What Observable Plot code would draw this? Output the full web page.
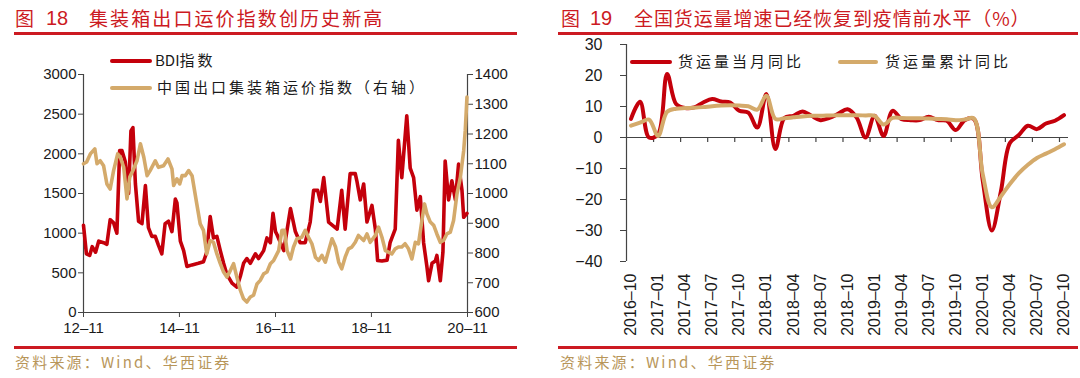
<!DOCTYPE html>
<html><head><meta charset="utf-8">
<script src="https://cdn.jsdelivr.net/npm/d3@7"></script>
<script src="https://cdn.jsdelivr.net/npm/@observablehq/plot@0.6"></script>
<style>
html,body{margin:0;padding:0;background:#fff;}
body{width:1080px;height:378px;position:relative;overflow:hidden;font-family:"Liberation Sans",Arial,sans-serif;}
.abs{position:absolute;white-space:nowrap;}
.title{color:#cc1a22;font-family:"Noto Sans CJK SC";font-size:19px;line-height:20px;top:8px;}
.rule{position:absolute;height:3px;background:#cc1a22;}
.src{color:#b8965a;font-family:"Noto Sans CJK SC";font-size:15px;line-height:16px;letter-spacing:2.2px;top:354px;}
.leg{font-family:"Noto Sans CJK SC";font-size:15px;line-height:16px;color:#1a1a1a;}
.cjk{letter-spacing:3px;}
.legline{position:absolute;height:4px;border-radius:2px;}
.plot{position:absolute;top:0;}
</style></head><body>
<script>
// ---------- data: left chart ----------
const bdiDates = ["2012-11-01","2012-11-23","2012-12-18","2013-01-06","2013-02-01","2013-02-25","2013-04-03","2013-04-28","2013-05-23","2013-06-18","2013-07-13","2013-08-03","2013-08-21","2013-09-15","2013-10-10","2013-10-28","2013-11-12","2013-12-01","2013-12-25","2014-01-20","2014-02-15","2014-03-10","2014-04-05","2014-05-01","2014-05-25","2014-06-20","2014-07-15","2014-08-10","2014-09-05","2014-10-01","2014-10-13","2014-11-08","2014-12-03","2014-12-28","2015-02-05","2015-03-25","2015-05-03","2015-05-28","2015-06-23","2015-07-18","2015-08-13","2015-09-08","2015-10-03","2015-10-28","2015-12-06","2016-01-12","2016-02-08","2016-03-03","2016-03-28","2016-04-23","2016-06-01","2016-06-25","2016-08-03","2016-08-28","2016-09-23","2016-10-13","2016-11-01","2016-11-13","2017-01-03","2017-02-23","2017-04-01","2017-05-08","2017-06-15","2017-07-23","2017-08-18","2017-09-18","2017-10-08","2017-11-03","2017-12-10","2018-02-13","2018-03-20","2018-04-15","2018-05-23","2018-07-01","2018-07-13","2018-08-08","2018-09-03","2018-09-28","2018-11-05","2018-12-01","2018-12-18","2019-01-20","2019-02-28","2019-03-23","2019-05-01","2019-05-25","2019-06-20","2019-07-28","2019-08-23","2019-09-18","2019-10-13","2019-11-08","2019-12-03","2019-12-28","2020-01-10","2020-02-05","2020-03-01","2020-03-13","2020-04-08","2020-04-28","2020-05-15","2020-06-10","2020-07-05","2020-08-01","2020-08-25","2020-09-20","2020-10-03","2020-10-28"];
const bdiValues = [1100,740,720,830,760,900,880,860,1170,1130,1000,2040,2040,1900,1500,2290,2330,1620,1150,1120,1600,1070,960,960,850,740,1120,1150,1020,1430,1380,900,780,580,600,620,640,760,1210,940,960,780,620,480,370,320,460,620,680,620,740,680,780,940,880,1250,1020,980,780,1310,1020,880,880,1140,1540,1540,1400,1700,1140,1050,1540,1050,1750,1750,1660,1420,1620,1140,1350,1050,655,650,660,880,1050,2170,1700,2480,1820,1700,1290,1460,880,580,400,620,650,720,400,760,1910,1420,1660,1420,1870,1540,1200,1250];
const ccfiDates = ["2012-11-01","2012-11-25","2012-12-23","2013-01-26","2013-02-12","2013-03-08","2013-04-03","2013-04-28","2013-05-23","2013-06-18","2013-07-19","2013-08-08","2013-09-03","2013-09-28","2013-10-19","2013-11-12","2013-12-13","2014-01-08","2014-02-03","2014-02-28","2014-03-23","2014-05-01","2014-05-25","2014-07-03","2014-08-06","2014-09-05","2014-09-18","2014-10-13","2014-11-03","2014-11-21","2014-12-15","2015-01-10","2015-02-05","2015-03-13","2015-04-08","2015-05-03","2015-05-28","2015-06-23","2015-07-18","2015-08-13","2015-09-08","2015-10-03","2015-10-28","2015-11-23","2015-12-18","2016-01-12","2016-02-08","2016-03-03","2016-03-28","2016-04-23","2016-05-18","2016-06-13","2016-07-08","2016-08-03","2016-08-28","2016-09-23","2016-10-18","2016-11-25","2016-12-20","2017-01-08","2017-01-28","2017-02-23","2017-03-18","2017-04-13","2017-05-20","2017-06-15","2017-07-10","2017-08-05","2017-09-01","2017-09-25","2017-10-20","2017-11-15","2017-12-10","2018-01-05","2018-02-01","2018-02-25","2018-03-20","2018-04-15","2018-05-10","2018-06-05","2018-07-01","2018-07-25","2018-09-03","2018-09-28","2018-10-23","2018-12-01","2018-12-25","2019-01-20","2019-02-15","2019-03-10","2019-04-05","2019-05-01","2019-05-25","2019-06-20","2019-07-15","2019-08-10","2019-09-05","2019-10-01","2019-10-25","2019-11-20","2019-12-10","2019-12-28","2020-01-23","2020-02-18","2020-03-13","2020-04-08","2020-05-03","2020-05-28","2020-06-23","2020-07-18","2020-08-13","2020-09-08","2020-10-03","2020-10-15","2020-10-28"];
const ccfiValues = [1100,1106,1133,1150,1100,1110,1093,1032,1015,1077,1133,1122,1088,982,1055,1077,1110,1167,1122,1060,1077,1110,1088,1093,1116,1083,1027,1049,1032,1060,1060,1077,1060,965,898,876,797,842,836,797,764,736,719,741,764,719,674,646,635,652,658,696,708,730,736,764,775,808,876,876,808,780,820,848,853,876,853,831,786,775,792,769,808,848,820,769,747,786,814,820,836,859,842,864,836,859,887,853,808,803,797,814,820,820,831,814,780,836,831,909,965,932,904,893,864,836,842,864,870,909,999,1055,1144,1212,1324];
const leftXTicks = ["2012-11-01","2014-11-01","2016-11-01","2018-11-01","2020-11-01"];
const leftYTicks = [0,500,1000,1500,2000,2500,3000];
const rightYTicks = [600,700,800,900,1000,1100,1200,1300,1400];

// ---------- data: right chart ----------
const freightMonths = ["2016-10","2016-11","2016-12","2017-01","2017-02","2017-03","2017-04","2017-05","2017-06","2017-07","2017-08","2017-09","2017-10","2017-11","2017-12","2018-01","2018-02","2018-03","2018-04","2018-05","2018-06","2018-07","2018-08","2018-09","2018-10","2018-11","2018-12","2019-01","2019-02","2019-03","2019-04","2019-05","2019-06","2019-07","2019-08","2019-09","2019-10","2019-11","2019-12","2020-01","2020-02","2020-03","2020-04","2020-05","2020-06","2020-07","2020-08","2020-09","2020-10"];
const monthlyYoY = [6,11.5,0,1,20.5,10.8,9.5,9.7,11.3,12.4,11.6,11.3,8.6,8.0,3.2,14,-3.7,6.3,7.0,8.4,7,5.6,6.3,7.7,9.1,6.5,0,7,0.5,8.6,5.9,5.6,5.6,6.7,5.6,5.4,2.4,5.6,6.0,-14,-30,-17.5,-1.8,0.8,3.8,2.7,4.5,5.4,7.2];
const cumulativeYoY = [3.8,4.8,5.8,0.5,8.3,9.3,9.5,9.6,9.8,10.1,10.3,10.4,10.3,10.1,9.0,13.5,6.0,6.2,6.5,6.8,7.0,7.0,7.1,7.2,7.2,7.2,7.1,7.0,4.2,6.3,6.3,6.2,6.2,6.1,6.0,5.9,5.6,5.8,6.2,-12,-22.5,-19,-15,-11.5,-8.8,-6.6,-5.2,-3.8,-2.2];
const rightChartYTicks = [30,20,10,0,-10,-20,-30,-40];

// ---------- styles ----------
const red = "#c4000b", tan = "#d4aa6b", axisColor = "#444", textColor = "#1a1a1a";
const font = "'Liberation Sans', Arial, sans-serif";

// ---------- left chart ----------
const xt = leftXTicks.map(d => new Date(d));
const lMax = d3.max(leftYTicks), rMin = d3.min(rightYTicks), rMax = d3.max(rightYTicks);
const toLeft = v => (v - rMin) / (rMax - rMin) * lMax;
const fromLeft = v => Math.round(rMin + v / lMax * (rMax - rMin));
const bdi = bdiDates.map((d, i) => ({date: new Date(d), v: bdiValues[i]}));
const ccfi = ccfiDates.map((d, i) => ({date: new Date(d), v: toLeft(ccfiValues[i])}));

const left = Plot.plot({
  width: 540, height: 345,
  marginLeft: 83, marginRight: 73, marginTop: 74, marginBottom: 33,
  style: {fontFamily: font, fontSize: "15px", color: textColor, background: "transparent", overflow: "visible"},
  x: {type: "utc", domain: [xt[0], xt[xt.length - 1]]},
  y: {domain: [0, lMax]},
  marks: [
    Plot.ruleX([xt[0], xt[xt.length - 1]], {stroke: axisColor, strokeWidth: 1.2}),
    Plot.ruleY([0], {stroke: axisColor, strokeWidth: 1.2}),
    Plot.axisY({ticks: leftYTicks, tickSize: 5, tickPadding: 2, stroke: axisColor, fontSize: 15, label: null, tickFormat: d => String(d)}),
    Plot.axisY({anchor: "right", ticks: rightYTicks.map(toLeft), tickSize: 5, tickPadding: 2, stroke: axisColor, fontSize: 15, label: null, tickFormat: d => String(fromLeft(d))}),
    Plot.axisX({ticks: xt, tickSize: 5, tickPadding: 5, stroke: axisColor, fontSize: 15, label: null, tickFormat: d3.utcFormat("%y\u2013%m")}),
    Plot.line(bdi, {x: "date", y: "v", stroke: red, strokeWidth: 3.6, strokeLinejoin: "round"}),
    Plot.line(ccfi, {x: "date", y: "v", stroke: tan, strokeWidth: 3.6, strokeLinejoin: "round"})
  ]
});
left.classList.add("plot"); left.style.left = "0px";
document.body.appendChild(left);

// ---------- right chart ----------
const rows = freightMonths.map((m, i) => ({i, m, a: monthlyYoY[i], c: cumulativeYoY[i]}));
const labelIdx = rows.filter(d => ["01","04","07","10"].includes(d.m.slice(5))).map(d => d.i);
const boundaries = labelIdx.filter(i => i > 0).map(i => i - 0.5);
const yDom = [d3.min(rightChartYTicks), d3.max(rightChartYTicks)];
const plotH = 345, mTop = 44, mBot = 84;
const unitsPerPx = (yDom[1] - yDom[0]) / (plotH - mTop - mBot);

const right = Plot.plot({
  width: 540, height: plotH,
  marginLeft: 86, marginRight: 12, marginTop: mTop, marginBottom: mBot,
  style: {fontFamily: font, fontSize: "16px", color: textColor, background: "transparent", overflow: "visible"},
  x: {domain: [-0.5, freightMonths.length - 0.5]},
  y: {domain: yDom},
  marks: [
    Plot.ruleX([-0.5], {stroke: axisColor, strokeWidth: 1.2}),
    Plot.ruleY([0], {stroke: axisColor, strokeWidth: 1.2}),
    Plot.ruleX(boundaries, {y1: 0, y2: -5 * unitsPerPx, stroke: axisColor, strokeWidth: 1.2}),
    Plot.axisY({ticks: rightChartYTicks, tickSize: 6, tickPadding: 18, stroke: axisColor, fontSize: 16, label: null}),
    Plot.axisX({ticks: labelIdx, tickSize: 0, tickPadding: 12, tickRotate: -90, fontSize: 16, label: null, tickFormat: i => freightMonths[i].replace("-", "\u2013")}),
    Plot.line(rows, {x: "i", y: "a", stroke: red, strokeWidth: 4, curve: "catmull-rom"}),
    Plot.line(rows, {x: "i", y: "c", stroke: tan, strokeWidth: 4, curve: "catmull-rom"})
  ]
});
right.classList.add("plot"); right.style.left = "540px";
document.body.appendChild(right);

// ---------- titles, rules, legends, sources ----------
function add(html, cls, style) {
  const el = document.createElement("div");
  el.className = "abs " + cls;
  el.innerHTML = html;
  Object.assign(el.style, style);
  document.body.appendChild(el);
  return el;
}
add("图", "title", {left: "15px"});
add("18", "title", {left: "46px", fontFamily: "'Liberation Sans', Arial", fontSize: "20px"});
add("集装箱出口运价指数创历史新高", "title", {left: "89px", letterSpacing: "2.1px"});
add("图", "title", {left: "561px"});
add("19", "title", {left: "590px", fontFamily: "'Liberation Sans', Arial", fontSize: "20px"});
add("全国货运量增速已经恢复到疫情前水平（%）", "title", {left: "634px", letterSpacing: "0.9px"});

[[14, 32, 503], [558, 32, 520], [14, 346, 503], [558, 346, 520]].forEach(([x, y, w]) => {
  const r = document.createElement("div");
  r.className = "rule";
  Object.assign(r.style, {left: x + "px", top: y + "px", width: w + "px"});
  document.body.appendChild(r);
});

function legend(x1, x2, y, color, textX, html) {
  const l = document.createElement("div");
  l.className = "legline";
  Object.assign(l.style, {left: x1 + "px", top: (y - 2) + "px", width: (x2 - x1) + "px", background: color});
  document.body.appendChild(l);
  add(html, "leg", {left: textX + "px", top: (y - 9) + "px"});
}
legend(110, 152, 61, red, 155, "BDI<span class='cjk'>指数</span>");
legend(110, 152, 88, tan, 157, "<span class='cjk'>中国出口集装箱运价指数（右轴）</span>");
legend(630, 672, 62, red, 678, "<span class='cjk'>货运量当月同比</span>");
legend(838, 878, 62, tan, 885, "<span class='cjk'>货运量累计同比</span>");

add("资料来源：Wind、华西证券", "src", {left: "15px"});
add("资料来源：Wind、华西证券", "src", {left: "560px"});
</script>
</body></html>
